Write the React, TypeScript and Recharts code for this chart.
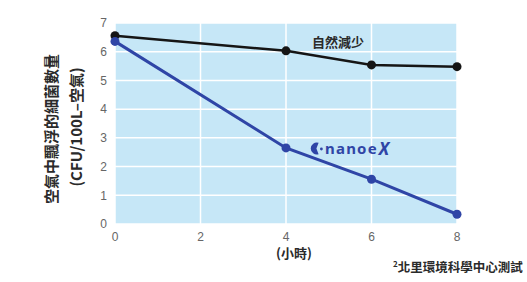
import { CartesianGrid, Line, LineChart, XAxis, YAxis } from 'recharts'

const hours = [0, 4, 6, 8]
const natural = [6.56, 6.03, 5.54, 5.48]
const nanoe = [6.36, 2.65, 1.56, 0.34]
const xTicks = [0, 2, 4, 6, 8]
const yTicks = [0, 1, 2, 3, 4, 5, 6, 7]

const data = hours.map((h, i) => ({ h, natural: natural[i], nanoe: nanoe[i] }))

const CJK = '"Noto Sans CJK TC", "Noto Sans", sans-serif'
const BLUE = '#2f45a6'

export default function App() {
  return (
    <div style={{ position: 'relative', width: 527, height: 282, background: '#fff', overflow: 'hidden' }}>
      <style>{'body{margin:0}'}</style>
      <LineChart width={527} height={282} data={data} margin={{ top: 23, right: 70, left: 85, bottom: 28 }}>
        <CartesianGrid fill="#c6e7f7" stroke="#ffffff" strokeWidth={1.5} />
        <XAxis
          dataKey="h"
          type="number"
          domain={[0, 8]}
          ticks={xTicks}
          axisLine={false}
          tickLine={false}
          height={30}
          tick={{ fill: '#666', fontSize: 12, fontFamily: '"Liberation Sans", Arial, sans-serif' }}
        />
        <YAxis
          type="number"
          domain={[0, 7]}
          ticks={yTicks}
          axisLine={false}
          tickLine={false}
          width={30}
          tick={{ fill: '#666', fontSize: 12, fontFamily: '"Liberation Sans", Arial, sans-serif' }}
        />
        <Line
          dataKey="natural"
          stroke="#151515"
          strokeWidth={2.5}
          dot={{ r: 4.5, fill: '#151515', stroke: '#151515', strokeWidth: 0 }}
          isAnimationActive={false}
        />
        <Line
          dataKey="nanoe"
          stroke={BLUE}
          strokeWidth={3}
          dot={{ r: 4.5, fill: BLUE, stroke: BLUE, strokeWidth: 0 }}
          isAnimationActive={false}
        />
      </LineChart>

      {/* y axis title, two rotated lines */}
      <div
        style={{
          position: 'absolute', left: 50, top: 129, transform: 'translate(-50%, -50%) rotate(-90deg)',
          whiteSpace: 'nowrap', fontFamily: CJK, fontSize: 15, fontWeight: 700, color: '#2a2a2a', lineHeight: 1,
        }}
      >
        空氣中飄浮的細菌數量
      </div>
      <div
        style={{
          position: 'absolute', left: 75, top: 127, transform: 'translate(-50%, -50%) rotate(-90deg)',
          whiteSpace: 'nowrap', fontFamily: CJK, fontSize: 15, fontWeight: 700, color: '#2a2a2a', lineHeight: 1,
        }}
      >
        (CFU/100L–空氣)
      </div>

      <div style={{ position: 'absolute', left: 312, top: 35, fontFamily: CJK, fontSize: 13, fontWeight: 700, color: '#2a2a2a', lineHeight: 1 }}>
        自然減少
      </div>

      {/* nanoe X mark */}
      <div style={{ position: 'absolute', left: 309, top: 140, display: 'flex', alignItems: 'center', color: BLUE, lineHeight: 1 }}>
        <svg width={15} height={15} viewBox="0 0 15 15">
          <path d="M9.6 1.8 A6 6 0 1 0 9.6 13.2 L7.4 7.5 Z" fill={BLUE} />
          <circle cx={12.4} cy={8} r={1.4} fill={BLUE} />
        </svg>
        <span style={{ fontFamily: '"Noto Sans", sans-serif', fontSize: 15, fontWeight: 700, letterSpacing: 1.2, marginLeft: 1 }}>
          nanoe
        </span>
        <span style={{ fontFamily: '"Noto Sans", sans-serif', fontSize: 17, fontWeight: 700, fontStyle: 'italic', marginLeft: 1 }}>
          X
        </span>
      </div>

      <div style={{ position: 'absolute', left: 276, top: 246, fontFamily: CJK, fontSize: 13, fontWeight: 700, color: '#2a2a2a', lineHeight: 1 }}>
        (小時)
      </div>

      <div style={{ position: 'absolute', left: 393, top: 260, whiteSpace: 'nowrap', fontFamily: CJK, fontSize: 12.5, fontWeight: 700, color: '#2a2a2a', lineHeight: 1 }}>
        <sup style={{ fontSize: 8 }}>2</sup>北里環境科學中心測試
      </div>
    </div>
  )
}
